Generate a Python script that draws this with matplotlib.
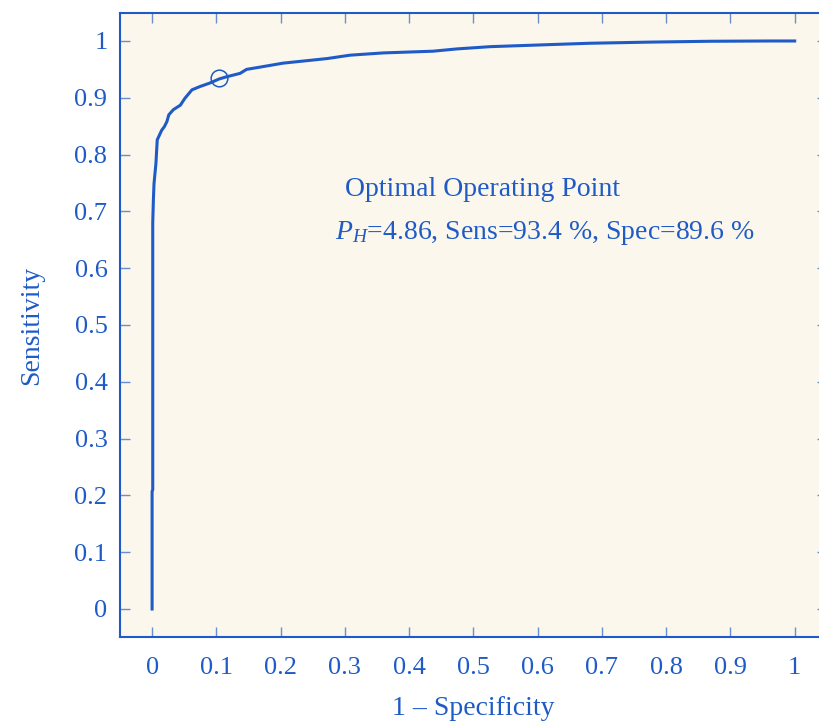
import matplotlib.pyplot as plt

# ROC curve
fpr = [0.0, 0.0, 0.001, 0.001, 0.002, 0.003, 0.006, 0.008, 0.015, 0.019, 0.023,
       0.026, 0.033, 0.044, 0.051, 0.062, 0.075, 0.090, 0.104, 0.116, 0.137,
       0.147, 0.168, 0.204, 0.272, 0.308, 0.360, 0.437, 0.474, 0.526, 0.603,
       0.681, 0.774, 0.868, 0.961, 1.0]
tpr = [0.0, 0.207, 0.21, 0.68, 0.72, 0.749, 0.785, 0.826, 0.843, 0.849, 0.858,
       0.870, 0.879, 0.887, 0.899, 0.914, 0.920, 0.926, 0.933, 0.937, 0.943,
       0.950, 0.954, 0.961, 0.969, 0.975, 0.979, 0.982, 0.986, 0.990, 0.993,
       0.996, 0.998, 0.9995, 1.0, 1.0]

opt_fpr = 0.104
opt_tpr = 0.934
ticks = [0, 0.1, 0.2, 0.3, 0.4, 0.5, 0.6, 0.7, 0.8, 0.9, 1]
tick_labels = ['0', '0.1', '0.2', '0.3', '0.4', '0.5', '0.6', '0.7', '0.8', '0.9', '1']

blue = '#1f5bc6'
plt.rcParams['font.family'] = ['Liberation Serif', 'DejaVu Serif']
plt.rcParams['mathtext.fontset'] = 'custom'
plt.rcParams['mathtext.rm'] = 'Liberation Serif'
plt.rcParams['mathtext.it'] = 'Liberation Serif:italic'

fig = plt.figure(figsize=(8.2, 7.23), dpi=100)
ax = fig.add_axes([0.1463, 0.1184, 0.862, 0.8642])
ax.set_facecolor('#fbf7ec')

ax.plot(fpr, tpr, color=blue, lw=2.2)
ax.plot(opt_fpr, opt_tpr, 'o', mfc='none', mec=blue, ms=12, mew=1.1)

ax.text(0.300, 0.738, 'Optimal Operating Point', color=blue, fontsize=20, va='center')
ax.text(0.284, 0.662, r'$P_H$=4.86, Sens=93.4 %, Spec=89.6 %', color=blue, fontsize=20,
        va='center')

ax.set_xlim(-0.05, 1.05)
ax.set_ylim(-0.05, 1.05)
ax.set_xticks(ticks)
ax.set_xticklabels(tick_labels)
ax.set_yticks(ticks)
ax.set_yticklabels(tick_labels)
ax.tick_params(direction='in', length=7, width=1, color='#6a8fd0', labelcolor=blue,
               labelsize=19, top=True, right=True)
ax.tick_params(axis='x', pad=14)
ax.tick_params(axis='y', pad=9)
for s in ax.spines.values():
    s.set_color(blue)
    s.set_linewidth(1.5)

ax.set_xlabel('1 – Specificity', color=blue, fontsize=20, labelpad=12)
ax.set_ylabel('Sensitivity', color=blue, fontsize=20, labelpad=22)

fig.savefig('out.png', dpi=100)
